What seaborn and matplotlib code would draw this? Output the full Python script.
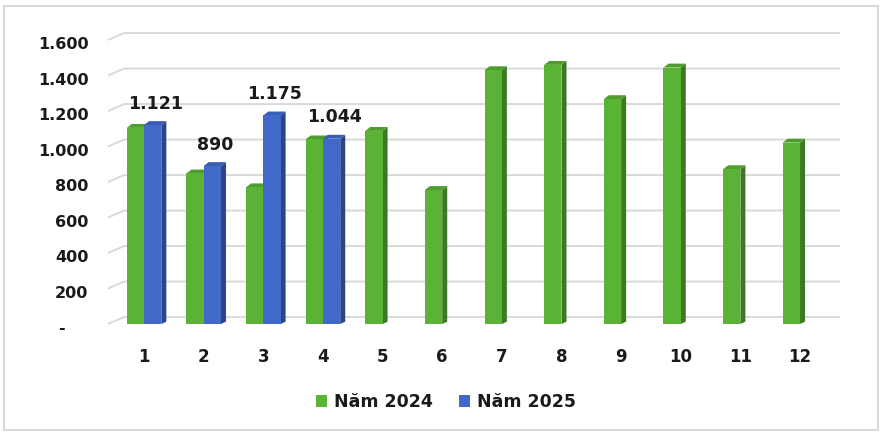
import numpy as np
import pandas as pd
import matplotlib
matplotlib.use("Agg")
import matplotlib.pyplot as plt
from matplotlib.patches import Polygon, Patch, Rectangle
import matplotlib.transforms as mtransforms
import seaborn as sns

months = [str(i) for i in range(1, 13)]
series_names = ["Năm 2024", "Năm 2025"]
values_2024 = [1105, 848, 770, 1040, 1088, 755, 1430, 1460, 1267, 1445, 872, 1022]
values_2025 = [1121, 890, 1175, 1044, np.nan, np.nan, np.nan, np.nan, np.nan, np.nan, np.nan, np.nan]
label_values_2025 = ["1.121", "890", "1.175", "1.044"]
y_ticks = [0, 200, 400, 600, 800, 1000, 1200, 1400, 1600]
y_tick_labels = ["-    ", "200", "400", "600", "800", "1.000", "1.200", "1.400", "1.600"]

front_colors = {"Năm 2024": "#5bb336", "Năm 2025": "#4169c9"}
side_colors = {"Năm 2024": "#3b7a23", "Năm 2025": "#2b4586"}
top_colors = {"Năm 2024": "#4f9d2e", "Năm 2025": "#3a5eb6"}

df = pd.DataFrame({
    "month": months * 2,
    "year": [series_names[0]] * 12 + [series_names[1]] * 12,
    "value": values_2024 + values_2025,
})

sns.set_theme(style="white")
plt.rcParams["font.family"] = ["DejaVu Sans"]

W, H = 887, 437
fig = plt.figure(figsize=(W / 100, H / 100), dpi=100)
ax_left, ax_right = 108, 840
ax_bottom_px = 324
ymax = 1660
px_per_unit = 0.1775
ax_top_px = ax_bottom_px - ymax * px_per_unit
ax = fig.add_axes([ax_left / W, (H - ax_bottom_px) / H, (ax_right - ax_left) / W, (ax_bottom_px - ax_top_px) / H])

sns.barplot(data=df, x="month", y="value", hue="year", palette=front_colors,
            width=0.58, ax=ax, saturation=1, legend=False, errorbar=None)

xl, xr = -0.604, 11.67
ax.set_xlim(xl, xr)
ax.set_ylim(0, ymax)

dx = 0.084   # depth in x data units
dy = 22      # depth in y data units
gy = 39      # back wall offset of gridlines
gslant = 0.27

# gridlines drawn on the back wall with a slanted floor part at left
for v in y_ticks:
    ax.plot([xl, xl + gslant, xr], [v, v + gy, v + gy], color="#d9d9d9", lw=1.4,
            zorder=0.5, solid_capstyle="butt", clip_on=False)

# style bars with 3D faces
n = len(months)
for i, p in enumerate(ax.patches):
    h = p.get_height()
    if h is None or np.isnan(h):
        p.set_visible(False)
        continue
    name = series_names[i // n]
    z = 2 + (i // n)
    x0 = p.get_x()
    w = p.get_width()
    x1 = x0 + w
    p.set_edgecolor("none")
    p.set_zorder(z + 0.2)
    side = Polygon([(x1, 0), (x1 + dx, dy * 0.6), (x1 + dx, h + dy), (x1, h)],
                   closed=True, facecolor=side_colors[name], edgecolor="none", zorder=z)
    top = Polygon([(x0, h), (x0 + dx, h + dy), (x1 + dx, h + dy), (x1, h)],
                  closed=True, facecolor=top_colors[name], edgecolor="none", zorder=z + 0.1)
    ax.add_patch(side)
    ax.add_patch(top)

# data labels for 2025
blue_patches = ax.patches[n:2 * n]
for p, lab in zip(blue_patches, label_values_2025):
    h = p.get_height()
    cx = p.get_x() + p.get_width() / 2 + dx / 2
    ax.annotate(lab, (cx, h + dy), xytext=(0, 6), textcoords="offset points",
                ha="center", va="bottom", fontsize=12.5, fontweight="bold",
                color="#1a1a1a", zorder=10)

for s in ax.spines.values():
    s.set_visible(False)
ax.grid(False)
ax.set_xlabel("")
ax.set_ylabel("")
ax.set_yticks(y_ticks)
ax.set_yticklabels(y_tick_labels, fontsize=11.5, fontweight="bold", color="#1a1a1a")
ax.set_xticks(range(n))
ax.set_xticklabels(months, fontsize=12, fontweight="bold", color="#1a1a1a")
ax.tick_params(axis="y", length=0, pad=14)
ax.tick_params(axis="x", length=0, pad=17)
off = mtransforms.ScaledTranslation(0, -3 / 100, fig.dpi_scale_trans)
for t in ax.get_yticklabels():
    t.set_transform(t.get_transform() + off)
ax.patch.set_alpha(0)

handles = [Patch(facecolor=front_colors[s], edgecolor="none") for s in series_names]
leg = fig.legend(handles, series_names, loc="center", bbox_to_anchor=(0.503, (H - 402) / H),
                 ncol=2, frameon=False, handlelength=0.65, handleheight=0.65,
                 handletextpad=0.4, columnspacing=1.5,
                 prop={"size": 12.5, "weight": "bold"})
for t in leg.get_texts():
    t.set_color("#1a1a1a")

fig.patches.append(Rectangle((4 / W, (H - 430) / H), (878 - 4) / W, (430 - 6) / H,
                             transform=fig.transFigure, fill=False,
                             edgecolor="#d9d9d9", lw=1.5, zorder=0))

fig.savefig("out.png", dpi=100, facecolor="white")
